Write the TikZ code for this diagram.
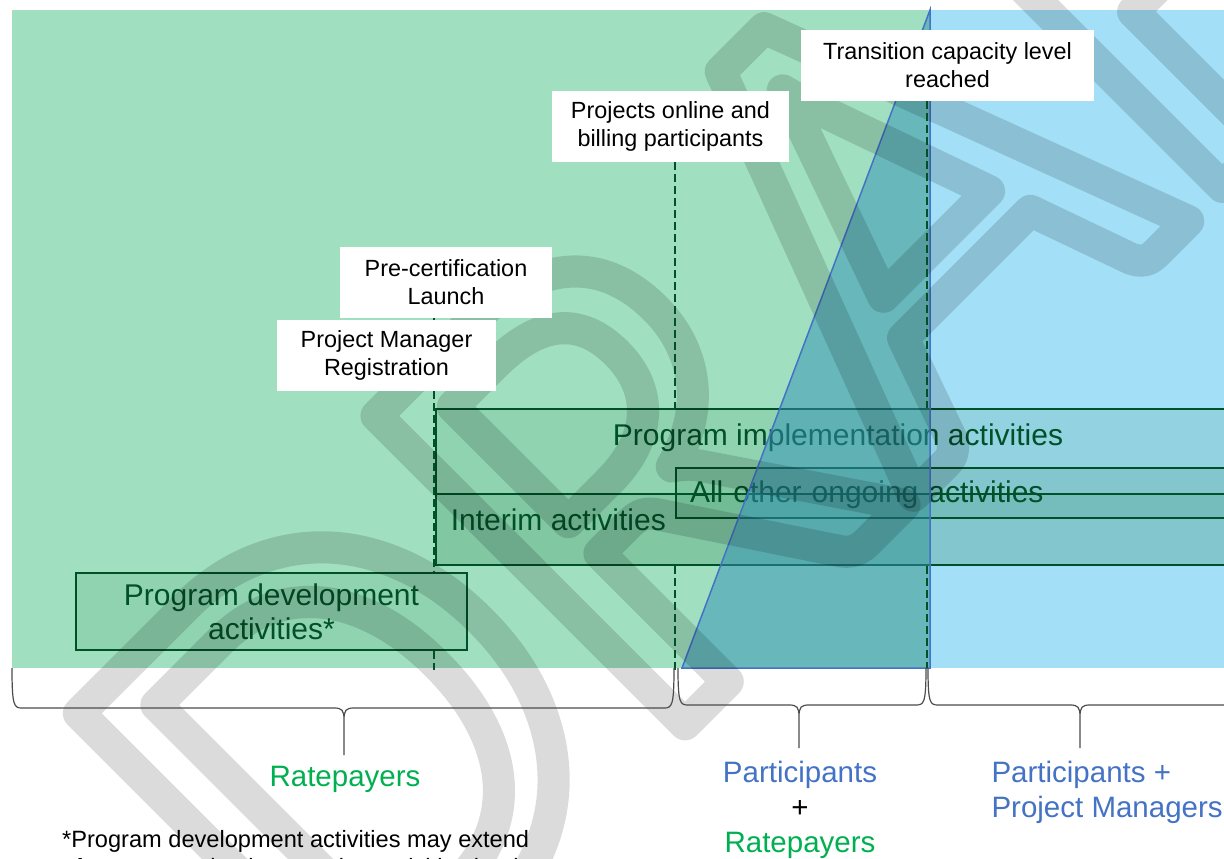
\documentclass[tikz,border=0pt]{standalone}
\usepackage{fontspec}
\setmainfont{Liberation Sans}
\newfontfamily\wmfont{Carlito}
\usetikzlibrary{positioning}

\definecolor{ratepayergreen}{RGB}{0,176,80}
\definecolor{participantblue}{RGB}{68,114,196}
\definecolor{greenzone}{RGB}{160,224,192}
\definecolor{bluezone}{RGB}{163,223,247}
\definecolor{actline}{RGB}{0,80,40}
\definecolor{actfill}{RGB}{0,100,40}
\definecolor{rampfill}{RGB}{48,144,184}

\tikzset{
  milestone/.style={actline, line width=1.5pt, dash pattern=on 8pt off 4pt},
  event/.style={fill=white, align=center, inner sep=0pt, font=\fontsize{23.4}{28}\selectfont},
  activity/.style={draw=actline, line width=1.5pt, fill=actfill, fill opacity=0.1, text opacity=1, text=actline, inner sep=0pt, align=center, font=\fontsize{30}{34}\selectfont},
  actlabel/.style={text=actline, font=\fontsize{30}{34}\selectfont},
  group/.style={align=center, font=\fontsize{29.5}{35}\selectfont},
  bracepen/.style={black!70, line width=1.2pt},
}
% curly brace: left x, right x, tip x, line y, tip
\newcommand{\groupbrace}[5]{%
  \draw[bracepen] (#1,668) .. controls (#1,#4-2) and (#1+2,#4) .. (#1+10,#4) -- (#3-10,#4)
    .. controls (#3-2,#4) and (#3,#4+2) .. (#3,#4+12) -- (#5) -- (#3,#4+12)
    .. controls (#3,#4+2) and (#3+2,#4) .. (#3+10,#4) -- (#2-10,#4)
    .. controls (#2-2,#4) and (#2,#4-2) .. (#2,668);}

\begin{document}
\begin{tikzpicture}[x=1pt, y=-1pt]
\useasboundingbox (0,0) rectangle (1224,859);

% zones
\fill[greenzone] (12,10) rectangle (930,668);
\fill[bluezone] (930,10) rectangle (1240,668);

% activities
\node[activity, minimum width=804pt, minimum height=156pt,
  label={[name=impltext, actlabel, anchor=north, yshift=-12pt]north:Program implementation activities}] (impl) at (838,487) {};
\node[activity, minimum width=804pt, minimum height=71pt,
  label={[name=interimtext, actlabel, anchor=west, xshift=12pt, yshift=9.5pt]west:Interim activities}] (interim) at (838,529.5) {};
\node[activity, minimum width=564pt, minimum height=50pt, text width=536pt, inner xsep=14pt, align=left, yshift=-3pt, text depth=3pt] (other) at (958,490) {All other ongoing activities};
\node[activity, minimum width=391pt, minimum height=77pt] (dev) at (271.5,611.5) {Program development\\activities*};

% ramp
\filldraw[fill=rampfill, fill opacity=0.5, draw=participantblue, line width=1.5pt] (682,668) -- (930,10) -- (930,668) -- cycle;

% watermark
\begin{scope}[opacity=0.14]
\node[rotate=45, anchor=north west, inner sep=0pt, text=black, font=\wmfont\fontsize{680}{680}\selectfont] (draft) at (46,746) {\special{pdf:literal direct 1 Tr 1 j 32 w}DRAFT};
\end{scope}

% events
\node[event, minimum width=293pt, minimum height=71pt] (trans) at (947.5,65.5) {Transition capacity level\\reached};
\node[event, minimum width=237pt, minimum height=71pt] (proj) at (670.5,126.5) {Projects online and\\billing participants};
\node[event, minimum width=212pt, minimum height=71pt] (pre) at (446,282.5) {Pre-certification\\Launch};
\node[event, minimum width=219pt, minimum height=71pt] (pm) at (386.5,355.5) {Project Manager\\Registration};

% milestone lines
\coordinate (m1) at (434,670);
\coordinate (m2) at (675,670);
\coordinate (m3) at (927,668);
\draw[milestone] (pre.south -| m1) -- (pm.north -| m1);
\draw[milestone] (pm.south -| m1) -- (dev.north -| m1);
\draw[milestone] (dev.south -| m1) -- (m1);
\draw[milestone] (proj.south -| m2) -- (impl.north -| m2);
\draw[milestone] (interim.south -| m2) -- (m2);
\draw[milestone] (trans.south -| m3) -- (impl.north -| m3);
\draw[milestone] (interim.south -| m3) -- (m3);

% who pays
\coordinate (tip1) at (344,755);
\coordinate (tip2) at (799,748);
\coordinate (tip3) at (1080,748);
\groupbrace{12}{674}{344}{708}{tip1}
\groupbrace{678}{926}{799}{705}{tip2}
\groupbrace{928}{1232}{1080}{705}{tip3}

\node[group, text=ratepayergreen] (rate) at (345,779) {Ratepayers};
\node[group] (partrate) at (800,810) {\textcolor{participantblue}{Participants}\\+\\\textcolor{ratepayergreen}{Ratepayers}};
\node[group, anchor=west, align=left, text=participantblue] (partpm) at (988,792) {Participants +\\Project Managers};

\node[anchor=north west, inner sep=0pt, align=left, font=\fontsize{23.6}{28}\selectfont] (note) at (62,830) {*Program development activities may extend\\after program implementation activities begin};
\end{tikzpicture}
\end{document}
